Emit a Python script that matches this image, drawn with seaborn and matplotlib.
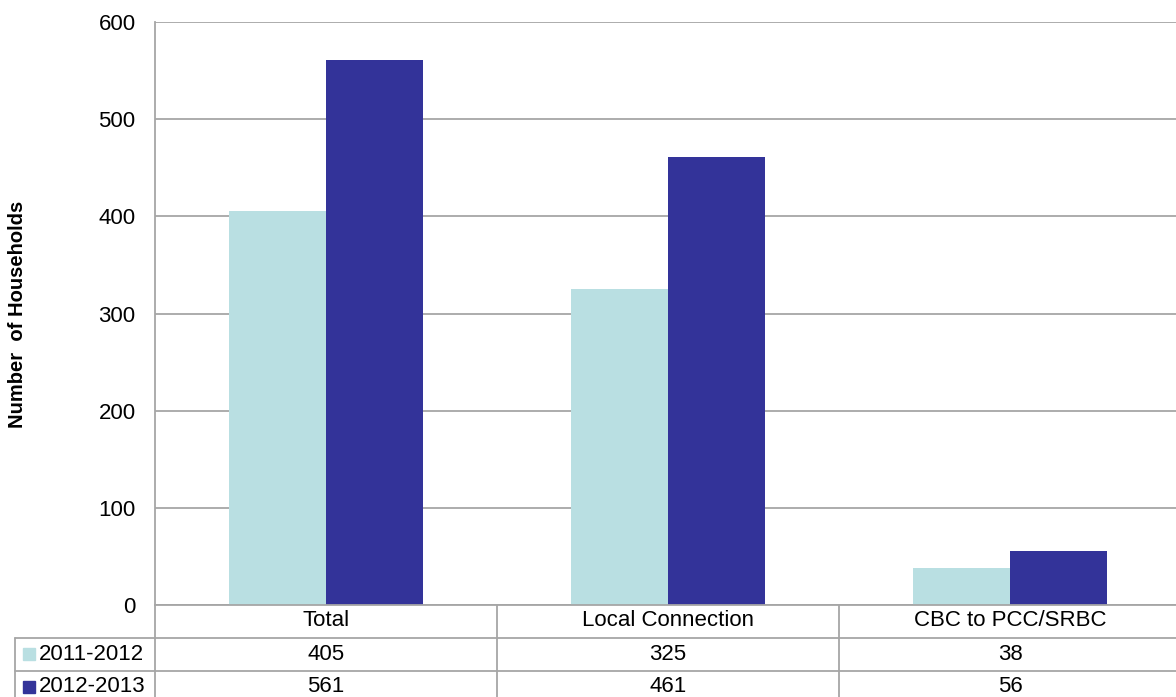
import pandas as pd
import matplotlib.pyplot as plt
import matplotlib.transforms as mtrans
from matplotlib.patches import Rectangle
import seaborn as sns

categories = ["Total", "Local Connection", "CBC to PCC/SRBC"]
periods = ["2011-2012", "2012-2013"]
values_2011 = [405, 325, 38]
values_2012 = [561, 461, 56]
colors = ["#B9DFE2", "#333399"]

df = pd.DataFrame({
    "category": categories * 2,
    "period": [periods[0]] * 3 + [periods[1]] * 3,
    "households": values_2011 + values_2012,
})

sns.set_theme(style="white")
plt.rcParams["font.family"] = ["Liberation Sans", "DejaVu Sans"]
plt.rcParams["text.color"] = "black"

W, H = 1176, 697
fig = plt.figure(figsize=(W / 100, H / 100), dpi=100)
# axes runs a little past the right edge, as in the original
ax = fig.add_axes([155 / W, 1 - 605 / H, 1026 / W, 583 / H])

sns.barplot(data=df, x="category", y="households", hue="period",
            order=categories, hue_order=periods, palette=colors,
            width=0.57, gap=0, saturation=1, linewidth=0,
            ax=ax, legend=False)

grid_col = "#A6A6A6"
ax.set_ylim(0, 600)
ax.set_xlim(-0.5, 2.5)
ax.set_yticks(range(0, 601, 100))
ax.yaxis.grid(True, color=grid_col, linewidth=1.3)
ax.set_axisbelow(True)
ax.tick_params(axis="y", labelsize=16, length=0, pad=14, colors="black")
ax.set_xticks([])
ax.set_xlabel("")
ax.set_ylabel("")
for s in ["top", "right"]:
    ax.spines[s].set_visible(False)
for s in ["left", "bottom"]:
    ax.spines[s].set_color(grid_col)
    ax.spines[s].set_linewidth(1.3)

fig.text(18 / W, 1 - 314 / H, "Number  of Households", rotation=90,
         ha="center", va="center", fontsize=14.5, fontweight="bold")

# data table under the axis
px = lambda y: 1 - y / H
blend = mtrans.blended_transform_factory(ax.transData, fig.transFigure)
unit = 342  # pixels per category
left_x = -0.5 - (155 - 15) / unit
lk = dict(color=grid_col, linewidth=1.3, clip_on=False)

for y in [638, 671]:
    ax.plot([left_x, 2.6], [px(y), px(y)], transform=blend, **lk)
for x in [-0.5, 0.5, 1.5, 2.5]:
    ax.plot([x, x], [px(605), px(H + 5)], transform=blend, **lk)
ax.plot([left_x, left_x], [px(638), px(H + 5)], transform=blend, **lk)

for i, c in enumerate(categories):
    ax.text(i, px(621), c, transform=blend, ha="center", va="center", fontsize=16)

rows = [values_2011, values_2012]
for r, (name, vals, col) in enumerate(zip(periods, rows, colors)):
    yc = 654 + 33 * r
    ax.add_patch(Rectangle((left_x + 8 / unit, px(yc + 6)), 12 / unit, 12 / H,
                           transform=blend, color=col, clip_on=False))
    ax.text(left_x + 24 / unit, px(yc), name, transform=blend,
            ha="left", va="center", fontsize=16)
    for i, v in enumerate(vals):
        ax.text(i, px(yc), str(v), transform=blend, ha="center", va="center", fontsize=16)

fig.savefig("out.png", dpi=100)
